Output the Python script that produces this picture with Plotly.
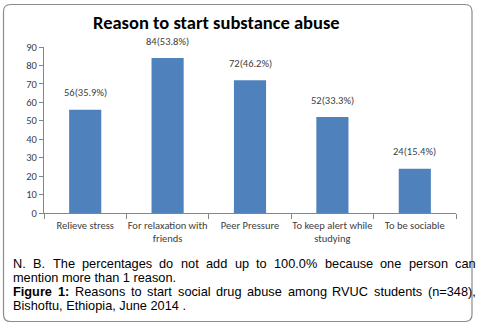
import plotly.graph_objects as go

# ---------------- data ----------------
categories = ["Relieve stress", "For relaxation with<br>friends", "Peer Pressure",
              "To keep alert while<br>studying", "To be sociable"]
counts = [56, 84, 72, 52, 24]
percents = [35.9, 53.8, 46.2, 33.3, 15.4]
y_ticks = [0, 10, 20, 30, 40, 50, 60, 70, 80, 90]
title_text = "Reason to start substance abuse"
caption_lines = [
    "N. B. The percentages do not add up to 100.0% because one person can",
    "mention more than 1 reason.",
    "Figure 1: Reasons to start social drug abuse among RVUC students (n=348),",
    "Bishoftu, Ethiopia, June 2014 .",
]
caption_bold_words = [0, 0, 2, 0]
caption_justified = [True, False, True, False]

# ---------------- layout geometry ----------------
W, H = 478, 324
L, R, T, B = 44, 22, 47, 111
PW, PH = W - L - R, H - T - B


def px2x(px):
    return (px - L) / PW


def py2y(py):
    return (H - B - py) / PH


# Arial / Liberation Sans advance widths (1/1000 em)
REG = {' ': 278, '.': 278, ',': 278, '%': 889, '(': 333, ')': 333, '=': 584, ':': 278,
       'a': 556, 'b': 556, 'c': 500, 'd': 556, 'e': 556, 'f': 278, 'g': 556, 'h': 556,
       'i': 222, 'j': 222, 'k': 500, 'l': 222, 'm': 833, 'n': 556, 'o': 556, 'p': 556,
       'q': 556, 'r': 333, 's': 500, 't': 278, 'u': 556, 'v': 500, 'w': 722, 'x': 500,
       'y': 500, 'z': 500,
       'A': 667, 'B': 667, 'C': 722, 'D': 722, 'E': 667, 'F': 611, 'G': 778, 'H': 722,
       'I': 278, 'J': 500, 'K': 667, 'L': 556, 'M': 833, 'N': 722, 'O': 778, 'P': 667,
       'Q': 778, 'R': 722, 'S': 667, 'T': 611, 'U': 722, 'V': 667, 'W': 944, 'X': 667,
       'Y': 667, 'Z': 611}
for d in "0123456789":
    REG[d] = 556
BOLD = dict(REG)
BOLD.update({'F': 611, 'i': 278, 'g': 611, 'u': 611, 'r': 389, 'e': 556, ':': 333, '1': 556})

CAP_SIZE = 12.75


def text_w(s, bold=False):
    tab = BOLD if bold else REG
    return sum(tab.get(c, 556) for c in s) * CAP_SIZE / 1000.0


fig = go.Figure()
fig.add_trace(go.Bar(
    x=categories, y=counts,
    marker=dict(color="#4F81BD", line=dict(width=0)),
    hoverinfo="skip",
))

annotations = []
# data labels
for c, v, p in zip(categories, counts, percents):
    annotations.append(dict(
        x=c, y=v, xref="x", yref="y", text=f"{v}({p}%)", showarrow=False,
        yanchor="middle", yshift=17,
        font=dict(family="Carlito, Lato, sans-serif", size=10.5, color="#404040"),
    ))

# caption
cap_left, cap_right = 12, 475
line_y0, line_dy = 263, 14.1
for i, line in enumerate(caption_lines):
    yy = py2y(line_y0 + i * line_dy)
    words = line.split(" ")
    nb = caption_bold_words[i]
    if not caption_justified[i]:
        txt = " ".join(f"<b>{w}</b>" if k < nb else w for k, w in enumerate(words))
        annotations.append(dict(x=px2x(cap_left), y=yy, xref="paper", yref="paper",
                                text=txt, showarrow=False, xanchor="left", yanchor="middle",
                                borderpad=0,
                                font=dict(family="Liberation Sans, Arial", size=CAP_SIZE,
                                          color="#000000")))
        continue
    widths = [text_w(w, k < nb) for k, w in enumerate(words)]
    gap = (cap_right - cap_left - sum(widths)) / (len(words) - 1)
    xx = cap_left
    for k, w in enumerate(words):
        annotations.append(dict(x=px2x(xx), y=yy, xref="paper", yref="paper",
                                text=f"<b>{w}</b>" if k < nb else w, showarrow=False,
                                xanchor="left", yanchor="middle", borderpad=0,
                                font=dict(family="Liberation Sans, Arial", size=CAP_SIZE,
                                          color="#000000")))
        xx += widths[k] + gap

# title
annotations.append(dict(
    x=px2x(216), y=py2y(23), xref="paper", yref="paper", text=f"<b>{title_text}</b>",
    showarrow=False, xanchor="center", yanchor="middle",
    font=dict(family="Carlito, Lato, sans-serif", size=18.5, color="#000000"),
))

# rounded outer frame
x0, x1, y0, y1, r = 3.5, 472, 4.5, 321.5, 7
def P(px, py):
    return f"{px2x(px):.5f},{py2y(py):.5f}"
path = (f"M{P(x0 + r, y0)} L{P(x1 - r, y0)} Q{P(x1, y0)} {P(x1, y0 + r)} "
        f"L{P(x1, y1 - r)} Q{P(x1, y1)} {P(x1 - r, y1)} L{P(x0 + r, y1)} "
        f"Q{P(x0, y1)} {P(x0, y1 - r)} L{P(x0, y0 + r)} Q{P(x0, y0)} {P(x0 + r, y0)} Z")

fig.update_layout(
    width=W, height=H,
    margin=dict(l=L, r=R, t=T, b=B, pad=0),
    paper_bgcolor="white", plot_bgcolor="white",
    showlegend=False, bargap=0.61,
    annotations=annotations,
    shapes=[dict(type="path", path=path, xref="paper", yref="paper",
                 line=dict(color="#8c8c8c", width=1.2), layer="above")],
    xaxis=dict(showline=True, linecolor="#868686", linewidth=1, ticks="outside",
               tickson="boundaries", ticklen=5, tickcolor="#868686", showgrid=False,
               tickangle=0, automargin=False, ticklabelstandoff=2,
               tickfont=dict(family="Carlito, Lato, sans-serif", size=10.5, color="#404040"),
               fixedrange=True),
    yaxis=dict(range=[0, 90], tickvals=y_ticks, showline=True, linecolor="#868686",
               linewidth=1, ticks="outside", ticklen=4, tickcolor="#868686",
               showgrid=False, zeroline=False, automargin=False,
               tickfont=dict(family="Carlito, Lato, sans-serif", size=10.5, color="#404040"),
               fixedrange=True),
)

fig.write_html("out.html", config={"displayModeBar": False},
               post_script="document.body.style.margin='0';document.body.style.padding='0';")
